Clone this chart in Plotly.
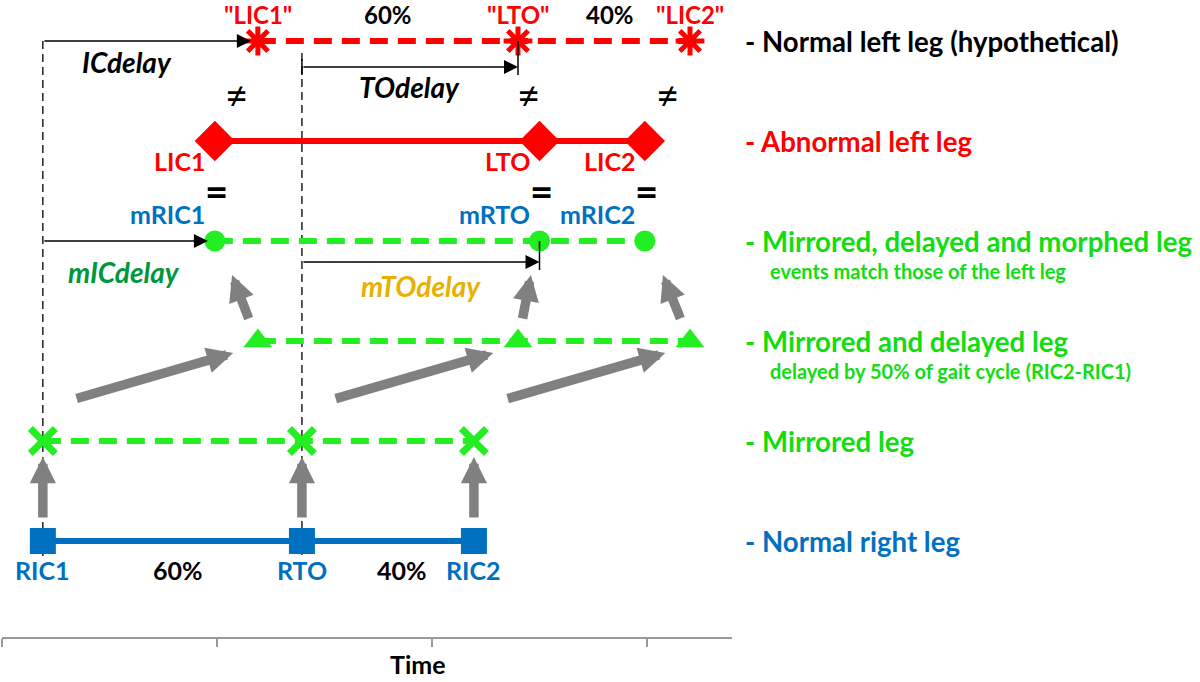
import plotly.graph_objects as go

# ---------------- data ----------------
x_ticks = [0, 1, 2, 3]

# event times (axis units: one tick = 1)
right_leg_t = [0.19, 1.395, 2.195]          # RIC1, RTO, RIC2
mirrored_t = [0.19, 1.395, 2.195]           # mirrored right leg
mirrored_delayed_t = [1.19, 2.40, 3.20]     # delayed by 50% of cycle
morphed_t = [0.99, 2.50, 2.99]              # morphed to match left leg
abnormal_left_t = [0.99, 2.50, 2.99]        # LIC1, LTO, LIC2
hypothetical_left_t = [1.19, 2.40, 3.20]    # "LIC1", "LTO", "LIC2"

# row levels (bottom to top)
row_levels = [1, 2, 3, 4, 5, 6]
row_names = ["- Normal right leg", "- Mirrored leg", "- Mirrored and delayed leg",
             "- Mirrored, delayed and morphed leg", "- Abnormal left leg",
             "- Normal left leg (hypothetical)"]
row_subtitles = ["", "", "delayed by 50% of gait cycle (RIC2-RIC1)",
                 "events match those of the left leg", "", ""]

right_labels = ["RIC1", "RTO", "RIC2"]
abnormal_labels = ["LIC1", "LTO", "LIC2"]
morphed_labels = ["mRIC1", "mRTO", "mRIC2"]
hypothetical_labels = ['"LIC1"', '"LTO"', '"LIC2"']
phase_labels = ["60%", "40%"]
delay_labels = ["ICdelay", "TOdelay", "mICdelay", "mTOdelay"]

# ---------------- style ----------------
RED = "#FF0000"
GREEN = "#22EE22"
GREEN_T = "#11DD11"
BLUE = "#0070C0"
GRAY = "#808080"
FONT = "Lato"
DASH = "18px,10px"
LBL = 25

fig = go.Figure()

def row_trace(xs, level, color, dash, symbol, size, mline=0):
    marker = dict(symbol=symbol, size=size, color=color)
    if mline:
        marker["line"] = dict(width=mline, color=color)
    fig.add_trace(go.Scatter(
        x=xs, y=[level] * len(xs), mode="lines+markers",
        line=dict(color=color, width=6, dash=dash),
        marker=marker, hoverinfo="skip", showlegend=False))

# dashed guide lines (behind everything)
for i, t in enumerate([right_leg_t[0], right_leg_t[1]]):
    top = row_levels[5] if i == 0 else row_levels[5] - 0.12
    fig.add_shape(type="line", x0=t, x1=t, y0=top, y1=row_levels[0] - 0.15,
                  line=dict(color="black", width=1.3, dash="8px,5px"), layer="below")

row_trace(right_leg_t, row_levels[0], BLUE, "solid", "square", 26)
row_trace(mirrored_t, row_levels[1], GREEN, DASH, "x-thin-open", 25, mline=7)
row_trace(mirrored_delayed_t, row_levels[2], GREEN, DASH, "triangle-up", 25)
row_trace(morphed_t, row_levels[3], GREEN, DASH, "circle", 21)
row_trace(abnormal_left_t, row_levels[4], RED, "solid", "diamond", 31)
row_trace(hypothetical_left_t, row_levels[5], RED, DASH, "asterisk-open", 24, mline=5)

ann = []

def text(x, y, s, color="black", size=LBL, xshift=0, yshift=0, xanchor="center",
         bold=True, italic=False, xref="x", yref="y"):
    t = s
    if bold:
        t = "<b>" + t + "</b>"
    if italic:
        t = "<i>" + t + "</i>"
    ann.append(dict(x=x, y=y, xref=xref, yref=yref, text=t, showarrow=False,
                    xanchor=xanchor, yanchor="middle", xshift=xshift, yshift=yshift,
                    font=dict(family=FONT, size=size, color=color)))

def arrow(x, y, ax, ay, color=GRAY, width=9.5, head=2, size=0.55, standoff=0):
    ann.append(dict(x=x, y=y, ax=ax, ay=ay, xref="x", yref="y", axref="x", ayref="y",
                    text="", showarrow=True, arrowhead=head, arrowsize=size,
                    arrowwidth=width, arrowcolor=color, standoff=standoff))

# top labels
for t, lab in zip(hypothetical_left_t, hypothetical_labels):
    text(t, row_levels[5], lab, RED, 24, yshift=27)
text((hypothetical_left_t[0] + hypothetical_left_t[1]) / 2, row_levels[5], phase_labels[0], "black", 24, yshift=27)
text((hypothetical_left_t[1] + hypothetical_left_t[2]) / 2, row_levels[5], phase_labels[1], "black", 24, xshift=6, yshift=27)

# not-equal signs
for a, b in zip(hypothetical_left_t, abnormal_left_t):
    text((a + b) / 2, row_levels[5] - 0.54, "≠", "black", 40, bold=False)

# abnormal labels
for t, lab in zip(abnormal_left_t, abnormal_labels):
    text(t, row_levels[4], lab, RED, xshift=-8, yshift=-20, xanchor="right")

# equal signs
for t in morphed_t:
    text(t, (row_levels[4] + row_levels[3]) / 2, "=", "black", 40, xshift=2)

# morphed labels
for t, lab in zip(morphed_t, morphed_labels):
    text(t, row_levels[3], lab, BLUE, xshift=-8, yshift=27, xanchor="right")

# right leg labels
for t, lab in zip(right_leg_t, right_labels):
    text(t, row_levels[0], lab, BLUE, yshift=-29)
text((right_leg_t[0] + right_leg_t[1]) / 2, row_levels[0], phase_labels[0], "black", xshift=6, yshift=-29)
text((right_leg_t[1] + right_leg_t[2]) / 2, row_levels[0], phase_labels[1], "black", xshift=14, yshift=-29)

# delay arrows (black)
ic_y = row_levels[5]
to_y = row_levels[5] - 0.26
mic_y = row_levels[3]
mto_y = row_levels[3] - 0.21
arrow(hypothetical_left_t[0], ic_y, right_leg_t[0], ic_y, "black", 1.4, 2, 2.0, standoff=7)
arrow(hypothetical_left_t[1], to_y, right_leg_t[1], to_y, "black", 1.4, 2, 2.0)
arrow(morphed_t[0], mic_y, right_leg_t[0], mic_y, "black", 1.4, 2, 2.0, standoff=7)
arrow(morphed_t[1], mto_y, right_leg_t[1], mto_y, "black", 1.4, 2, 2.0)
# end bars
fig.add_shape(type="line", x0=hypothetical_left_t[1], x1=hypothetical_left_t[1],
              y0=row_levels[5], y1=to_y - 0.08, line=dict(color="black", width=1.5))
fig.add_shape(type="line", x0=morphed_t[1], x1=morphed_t[1],
              y0=row_levels[3], y1=mto_y - 0.08, line=dict(color="black", width=1.5))
fig.add_shape(type="line", x0=right_leg_t[1], x1=right_leg_t[1],
              y0=to_y + 0.08, y1=to_y - 0.08, line=dict(color="black", width=1.5))

text((right_leg_t[0] + hypothetical_left_t[0]) / 2, ic_y, delay_labels[0], "black", 28,
     xshift=-23, yshift=-21, italic=True)
text((right_leg_t[1] + hypothetical_left_t[1]) / 2, to_y, delay_labels[1], "black", 28,
     yshift=-20, italic=True)
text((right_leg_t[0] + morphed_t[0]) / 2, mic_y, delay_labels[2], "#00963C", 28,
     xshift=-5, yshift=-31, italic=True)
text((right_leg_t[1] + morphed_t[1]) / 2, mto_y, delay_labels[3], "#E8B000", 28,
     yshift=-24, italic=True)

# gray arrows: right leg -> mirrored
for t in right_leg_t:
    arrow(t, row_levels[1] - 0.16, t, row_levels[0] + 0.22)
# mirrored -> mirrored and delayed
for a, b in zip(mirrored_t, mirrored_delayed_t):
    arrow(b - 0.115, row_levels[2] - 0.12, a + 0.15, row_levels[1] + 0.42)
# mirrored and delayed -> morphed
for a, b in zip(mirrored_delayed_t, morphed_t):
    arrow(a + 0.6 * (b - a), row_levels[3] - 0.34, a + 0.2 * (b - a), row_levels[2] + 0.21)

PLOT_L, PLOT_W = 2, 730

def px_to_paper(px):
    return (px - PLOT_L) / PLOT_W

# right-side row names
name_colors = [BLUE, GREEN_T, GREEN_T, GREEN_T, RED, "black"]
for lvl, name, sub, c in zip(row_levels, row_names, row_subtitles, name_colors):
    text(px_to_paper(743), lvl, name, c, 27.6, xanchor="left", xref="paper")
    if sub:
        text(px_to_paper(768), lvl, sub, c, 20, xanchor="left", yshift=-30, xref="paper")

# axis title "Time"
ann.append(dict(x=px_to_paper(418), y=-0.042, xref="paper", yref="paper",
                text="<b>Time</b>", showarrow=False, xanchor="center", yanchor="middle",
                font=dict(family=FONT, size=25, color="black")))

fig.update_layout(
    width=1200, height=682,
    margin=dict(l=PLOT_L, r=1200 - PLOT_L - PLOT_W, t=0, b=45),
    paper_bgcolor="white", plot_bgcolor="white",
    annotations=ann, showlegend=False,
    xaxis=dict(range=[0, PLOT_W / 215], tickvals=x_ticks, ticktext=["", "", "", ""],
               showgrid=False, zeroline=False, showline=True, linecolor="#999999",
               linewidth=2, ticks="outside", ticklen=8, tickcolor="#999999", tickwidth=2,
               fixedrange=True),
    yaxis=dict(range=[0.04, 6.41], visible=False, showgrid=False, zeroline=False,
               fixedrange=True),
)

fig.write_html("out.html", config={"displayModeBar": False},
               post_script="document.body.style.margin='0';document.body.style.overflow='hidden';")
